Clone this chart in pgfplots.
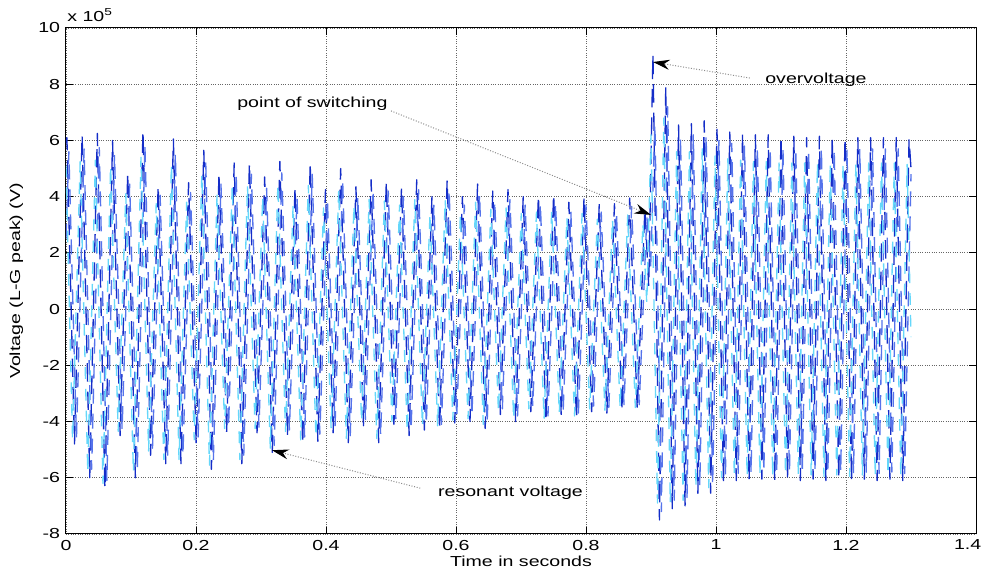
\documentclass[border=0pt]{standalone}
\usepackage{pgfplots}
\pgfplotsset{compat=1.18}
\usetikzlibrary{arrows.meta}
\usepackage{fontspec}
\setmainfont[FakeStretch=1.35]{Liberation Sans}
\newcommand\lab{\fontsize{8.7}{10.4}\selectfont}
\definecolor{phA}{RGB}{20,45,200}
\definecolor{phB}{RGB}{85,115,235}
\definecolor{phC}{RGB}{100,215,250}
\begin{document}
\begin{tikzpicture}
\begin{axis}[
  scale only axis, width=546pt, height=303.6pt,
  xmin=0, xmax=1.4, ymin=-8, ymax=10,
  xtick={0,0.2,0.4,0.6,0.8,1,1.2,1.4},
  xticklabels={0,0.2,0.4,0.6,0.8,1,1.2,1.4\hspace*{10pt}},
  ytick={-8,-6,-4,-2,0,2,4,6,8,10},
  grid=major, grid style={densely dotted, black!60, line width=0.5pt},
  tick align=inside, major tick length=4pt,
  axis line style={black, line width=0.6pt},
  tick style={black, line width=0.6pt},
  ticklabel style={font=\lab},
  /pgf/number format/assume math mode=true,
  xlabel={Time in seconds}, ylabel={Voltage (L-G peak) (V)},
  label style={font=\lab},
  xlabel style={at={(axis description cs:0.5,0)}, anchor=center, yshift=-16.2pt},
  ylabel style={at={(axis description cs:-0.0544,0.5)}, anchor=center},
  clip mode=individual,
  line join=round,
]
\addplot[phA, line width=0.8pt, dash pattern=on 11pt off 6pt] coordinates {
(0,5.9) (0.0014,6.1) (0.0131,-4.8) (0.0248,6.2) (0.0365,-6.0) (0.0482,6.25) (0.0599,-6.4) (0.0716,6.0) (0.0833,-4.5) (0.0950,4.85) (0.1067,-6.0) (0.1184,6.35) (0.1301,-5.2) (0.1418,4.4) (0.1535,-5.5) (0.1652,6.05) (0.1769,-5.5) (0.1886,4.5) (0.2003,-4.8) (0.2120,5.65) (0.2237,-5.7) (0.2354,4.85) (0.2471,-4.4) (0.2588,5.2) (0.2705,-5.5) (0.2822,5.2) (0.2939,-4.4) (0.3056,4.7) (0.3173,-5.1) (0.3290,5.25) (0.3407,-4.5) (0.3524,4.35) (0.3641,-4.8) (0.3758,5.2) (0.3875,-4.7) (0.3992,4.25) (0.4109,-4.4) (0.4226,5.0) (0.4343,-4.75) (0.4460,4.35) (0.4577,-4.15) (0.4694,4.6) (0.4811,-4.75) (0.4928,4.55) (0.5045,-4.1) (0.5162,4.35) (0.5279,-4.5) (0.5396,4.6) (0.5513,-4.3) (0.5630,4.0) (0.5747,-4.3) (0.5864,4.6) (0.5981,-4.05) (0.6098,4.0) (0.6215,-4.0) (0.6332,4.45) (0.6449,-4.25) (0.6566,4.2) (0.6683,-3.75) (0.6800,4.25) (0.6917,-4.0) (0.7034,4.0) (0.7151,-3.65) (0.7268,4.05) (0.7385,-4.0) (0.7502,4.1) (0.7619,-3.8) (0.7736,3.8) (0.7853,-3.9) (0.7970,4.0) (0.8087,-3.65) (0.8204,3.75) (0.8321,-3.7) (0.8438,3.75) (0.8555,-3.6) (0.8672,3.95) (0.8789,-3.6) (0.8906,3.6) (0.8965,0.8) (0.9030,9.1) (0.9130,-7.5) (0.9227,7.9) (0.9327,-7.1) (0.9424,6.55) (0.9524,-7.0) (0.9621,6.6) (0.9721,-6.55) (0.9818,6.7) (0.9918,-6.55) (1.0015,6.4) (1.0115,-6.2) (1.0212,6.3) (1.0312,-6.1) (1.0409,6.25) (1.0509,-6.1) (1.0606,6.2) (1.0706,-6.05) (1.0803,6.2) (1.0903,-6.1) (1.1000,6.15) (1.1100,-6.05) (1.1197,6.15) (1.1297,-6.1) (1.1394,6.1) (1.1494,-6.05) (1.1591,6.15) (1.1691,-6.1) (1.1788,6.1) (1.1888,-6.05) (1.1985,6.1) (1.2085,-6.1) (1.2182,6.1) (1.2282,-6.05) (1.2379,6.1) (1.2479,-6.1) (1.2576,6.1) (1.2676,-6.05) (1.2773,6.1) (1.2873,-6.1) (1.2970,6.05) (1.3000,5.0)
};
\addplot[phB, line width=0.8pt, dash pattern=on 9pt off 6pt] coordinates {
(0,2.5) (0.0044,5.6) (0.0161,-4.6) (0.0278,5.7) (0.0395,-5.7) (0.0512,5.75) (0.0629,-6.1) (0.0746,5.5) (0.0863,-4.3) (0.0980,4.45) (0.1097,-5.7) (0.1214,5.85) (0.1331,-4.95) (0.1448,4.05) (0.1565,-5.2) (0.1682,5.55) (0.1799,-5.2) (0.1916,4.15) (0.2033,-4.55) (0.2150,5.2) (0.2267,-5.4) (0.2384,4.45) (0.2501,-4.2) (0.2618,4.8) (0.2735,-5.2) (0.2852,4.8) (0.2969,-4.2) (0.3086,4.3) (0.3203,-4.85) (0.3320,4.85) (0.3437,-4.3) (0.3554,4.0) (0.3671,-4.55) (0.3788,4.8) (0.3905,-4.45) (0.4022,3.9) (0.4139,-4.2) (0.4256,4.6) (0.4373,-4.5) (0.4490,4.0) (0.4607,-3.95) (0.4724,4.25) (0.4841,-4.5) (0.4958,4.2) (0.5075,-3.9) (0.5192,4.0) (0.5309,-4.3) (0.5426,4.25) (0.5543,-4.1) (0.5660,3.7) (0.5777,-4.1) (0.5894,4.25) (0.6011,-3.85) (0.6128,3.7) (0.6245,-3.8) (0.6362,4.1) (0.6479,-4.05) (0.6596,3.85) (0.6713,-3.55) (0.6830,3.9) (0.6947,-3.8) (0.7064,3.7) (0.7181,-3.45) (0.7298,3.75) (0.7415,-3.8) (0.7532,3.75) (0.7649,-3.6) (0.7766,3.5) (0.7883,-3.7) (0.8000,3.7) (0.8117,-3.45) (0.8234,3.45) (0.8351,-3.5) (0.8468,3.45) (0.8585,-3.4) (0.8702,3.65) (0.8819,-3.4) (0.8936,3.3) (0.8995,1.5) (0.9060,6.6) (0.9160,-7.2) (0.9257,7.2) (0.9357,-6.8) (0.9454,6.1) (0.9554,-6.7) (0.9651,6.2) (0.9751,-6.3) (0.9848,6.2) (0.9948,-6.3) (1.0045,6.0) (1.0145,-5.9) (1.0242,5.9) (1.0342,-5.85) (1.0439,5.8) (1.0539,-5.85) (1.0636,5.8) (1.0736,-5.8) (1.0833,5.75) (1.0933,-5.85) (1.1030,5.75) (1.1130,-5.8) (1.1227,5.7) (1.1327,-5.85) (1.1424,5.7) (1.1524,-5.8) (1.1621,5.75) (1.1721,-5.85) (1.1818,5.7) (1.1918,-5.8) (1.2015,5.7) (1.2115,-5.85) (1.2212,5.7) (1.2312,-5.8) (1.2409,5.7) (1.2509,-5.85) (1.2606,5.7) (1.2706,-5.8) (1.2803,5.7) (1.2903,-5.85) (1.3000,4.8)
};
\addplot[phC, line width=0.8pt, dash pattern=on 7pt off 6pt] coordinates {
(0,5.1) (0.0101,-4.65) (0.0218,5.25) (0.0335,-5.8) (0.0452,5.3) (0.0569,-6.2) (0.0686,5.1) (0.0803,-4.35) (0.0920,4.1) (0.1037,-5.8) (0.1154,5.4) (0.1271,-5.05) (0.1388,3.75) (0.1505,-5.35) (0.1622,5.15) (0.1739,-5.35) (0.1856,3.8) (0.1973,-4.65) (0.2090,4.8) (0.2207,-5.55) (0.2324,4.1) (0.2441,-4.25) (0.2558,4.4) (0.2675,-5.35) (0.2792,4.4) (0.2909,-4.25) (0.3026,4.0) (0.3143,-4.95) (0.3260,4.45) (0.3377,-4.35) (0.3494,3.7) (0.3611,-4.65) (0.3728,4.4) (0.3845,-4.55) (0.3962,3.6) (0.4079,-4.25) (0.4196,4.25) (0.4313,-4.6) (0.4430,3.7) (0.4547,-4.0) (0.4664,3.9) (0.4781,-4.6) (0.4898,3.85) (0.5015,-4.0) (0.5132,3.7) (0.5249,-4.35) (0.5366,3.9) (0.5483,-4.15) (0.5600,3.4) (0.5717,-4.15) (0.5834,3.9) (0.5951,-3.95) (0.6068,3.4) (0.6185,-3.9) (0.6302,3.8) (0.6419,-4.1) (0.6536,3.55) (0.6653,-3.65) (0.6770,3.6) (0.6887,-3.9) (0.7004,3.4) (0.7121,-3.55) (0.7238,3.45) (0.7355,-3.9) (0.7472,3.5) (0.7589,-3.7) (0.7706,3.25) (0.7823,-3.8) (0.7940,3.4) (0.8057,-3.55) (0.8174,3.2) (0.8291,-3.6) (0.8408,3.2) (0.8525,-3.5) (0.8642,3.35) (0.8759,-3.5) (0.8876,3.05) (0.8935,0.2) (0.9000,6.2) (0.9100,-6.9) (0.9197,6.8) (0.9297,-6.9) (0.9394,5.6) (0.9494,-6.8) (0.9591,5.6) (0.9691,-6.35) (0.9788,5.7) (0.9888,-6.35) (0.9985,5.45) (1.0085,-6.0) (1.0182,5.35) (1.0282,-5.95) (1.0379,5.3) (1.0479,-5.95) (1.0576,5.25) (1.0676,-5.9) (1.0773,5.25) (1.0873,-5.95) (1.0970,5.2) (1.1070,-5.9) (1.1167,5.2) (1.1267,-5.95) (1.1364,5.2) (1.1464,-5.9) (1.1561,5.2) (1.1661,-5.95) (1.1758,5.2) (1.1858,-5.9) (1.1955,5.2) (1.2055,-5.95) (1.2152,5.2) (1.2252,-5.9) (1.2349,5.2) (1.2449,-5.95) (1.2546,5.2) (1.2646,-5.9) (1.2743,5.2) (1.2843,-5.95) (1.2940,5.15) (1.3000,-1.0)
};
% annotations
\node[font=\lab, anchor=west, inner sep=0pt] at (axis cs:0.263,7.3) {point of switching};
\node[font=\lab, anchor=west, inner sep=0pt] at (axis cs:1.0754,8.15) {overvoltage};
\node[font=\lab, anchor=west, inner sep=0pt] at (axis cs:0.572,-6.55) {resonant voltage};
\draw[black!45, densely dotted, line width=0.6pt, -{Stealth[black, length=10pt, width=6pt]}] (axis cs:0.50,7.05) -- (axis cs:0.900,3.35);
\draw[black!45, densely dotted, line width=0.6pt, -{Stealth[black, length=10pt, width=6pt]}] (axis cs:1.052,8.22) -- (axis cs:0.903,8.79);
\draw[black!45, densely dotted, line width=0.6pt, -{Stealth[black, length=10pt, width=6pt]}] (axis cs:0.545,-6.37) -- (axis cs:0.317,-5.02);
\node[font=\lab, anchor=base west, inner sep=0pt] at ([xshift=0.6pt, yshift=3.6pt]rel axis cs:0,1) {x 10\textsuperscript{5}};
\end{axis}
\pgfresetboundingbox
\path ([shift={(-39.6pt,-21pt)}]current axis.south west) rectangle ([shift={(5.4pt,16.8pt)}]current axis.north east);
\end{tikzpicture}
\end{document}
